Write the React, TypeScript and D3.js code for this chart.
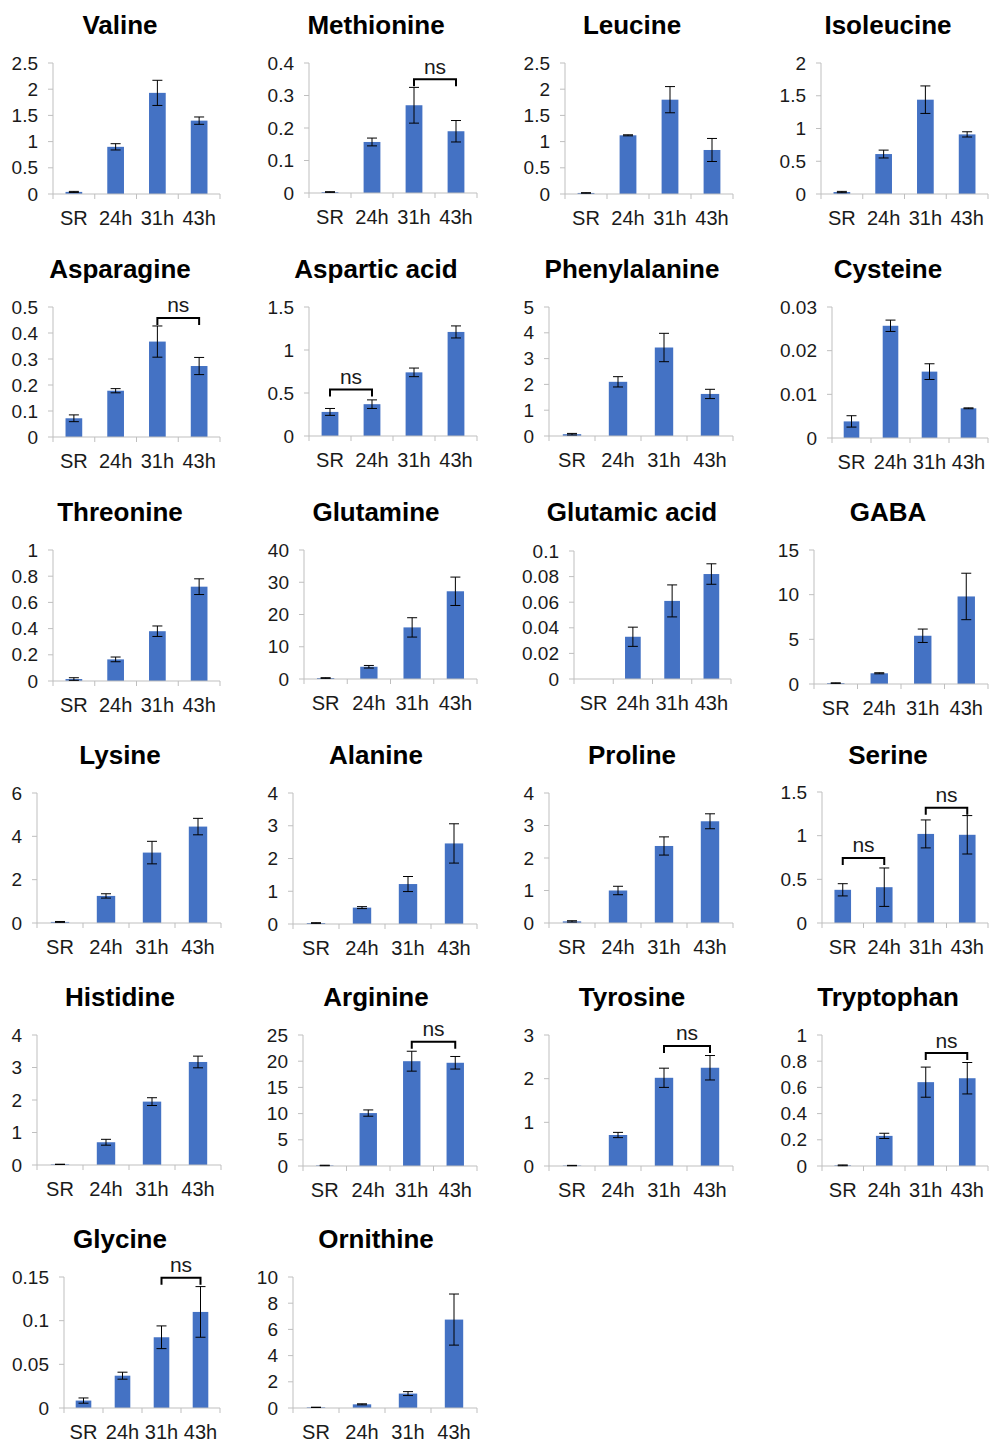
import React from 'react';
import * as d3 from 'd3';

// ---------- data ----------
const categories = ['SR', '24h', '31h', '43h'];

const panelNames = [
  'Valine', 'Methionine', 'Leucine', 'Isoleucine',
  'Asparagine', 'Aspartic acid', 'Phenylalanine', 'Cysteine',
  'Threonine', 'Glutamine', 'Glutamic acid', 'GABA',
  'Lysine', 'Alanine', 'Proline', 'Serine',
  'Histidine', 'Arginine', 'Tyrosine', 'Tryptophan',
  'Glycine', 'Ornithine',
];

const means = [
  [0.04, 0.90, 1.93, 1.40],
  [0.003, 0.157, 0.270, 0.190],
  [0.02, 1.12, 1.80, 0.84],
  [0.03, 0.61, 1.44, 0.91],
  [0.072, 0.178, 0.367, 0.273],
  [0.28, 0.37, 0.74, 1.21],
  [0.07, 2.10, 3.43, 1.63],
  [0.0038, 0.0257, 0.0152, 0.0068],
  [0.015, 0.165, 0.38, 0.72],
  [0.3, 3.8, 16.0, 27.2],
  [0, 0.033, 0.061, 0.082],
  [0.1, 1.2, 5.4, 9.8],
  [0.05, 1.25, 3.25, 4.45],
  [0.03, 0.50, 1.22, 2.46],
  [0.05, 1.00, 2.37, 3.13],
  [0.38, 0.41, 1.02, 1.01],
  [0.02, 0.70, 1.95, 3.17],
  [0.1, 10.1, 20.0, 19.7],
  [0.01, 0.71, 2.02, 2.25],
  [0.005, 0.23, 0.64, 0.67],
  [0.0085, 0.037, 0.081, 0.110],
  [0.05, 0.28, 1.10, 6.75],
];

const errors = [
  [0.01, 0.06, 0.24, 0.07],
  [0.001, 0.012, 0.055, 0.033],
  [0.005, 0.01, 0.25, 0.22],
  [0.01, 0.06, 0.21, 0.04],
  [0.013, 0.008, 0.06, 0.033],
  [0.04, 0.05, 0.05, 0.07],
  [0.03, 0.20, 0.55, 0.18],
  [0.0013, 0.0013, 0.0018, 0.0001],
  [0.01, 0.018, 0.04, 0.06],
  [0.1, 0.4, 3.0, 4.4],
  [0, 0.0075, 0.0125, 0.008],
  [0.03, 0.06, 0.75, 2.6],
  [0.02, 0.10, 0.52, 0.38],
  [0.01, 0.03, 0.23, 0.60],
  [0.02, 0.13, 0.28, 0.23],
  [0.07, 0.22, 0.16, 0.22],
  [0.005, 0.09, 0.12, 0.18],
  [0.05, 0.6, 1.9, 1.2],
  [0.005, 0.06, 0.22, 0.28],
  [0.003, 0.02, 0.115, 0.12],
  [0.003, 0.004, 0.013, 0.029],
  [0.01, 0.04, 0.15, 1.95],
];

const yMax = [2.5, 0.4, 2.5, 2, 0.5, 1.5, 5, 0.03, 1, 40, 0.1, 15, 6, 4, 4, 1.5, 4, 25, 3, 1, 0.15, 10];
const yStep = [0.5, 0.1, 0.5, 0.5, 0.1, 0.5, 1, 0.01, 0.2, 10, 0.02, 5, 2, 1, 1, 0.5, 1, 5, 1, 0.2, 0.05, 2];

// "ns" brackets: panel index, from category, to category, bracket level (data units)
const nsPanel = [1, 4, 5, 15, 15, 17, 18, 19, 20];
const nsFrom = [2, 2, 0, 0, 2, 2, 2, 2, 2];
const nsTo = [3, 3, 1, 1, 3, 3, 3, 3, 3];
const nsLevel = [0.35, 0.458, 0.54, 0.745, 1.32, 23.7, 2.75, 0.862, 0.149];

// ---------- layout (pixels) ----------
// [left, right, top, zero]
const panelBox = [
  [53, 220, 63, 194], [309, 477, 63, 193], [565, 733, 63, 194], [821, 988, 63, 194],
  [53, 220, 307, 437], [309, 477, 307, 436], [549, 733, 307, 436], [832, 988, 307, 438],
  [53, 220, 550, 681], [304, 477, 550, 679], [574, 731, 551, 679], [814, 988, 550, 684],
  [37, 221, 793, 923], [293, 477, 793, 924], [549, 733, 793, 923], [822, 988, 792, 923],
  [37, 221, 1035, 1165], [303, 477, 1035, 1166], [549, 733, 1035, 1166], [822, 988, 1035, 1166],
  [64, 220, 1277, 1408], [293, 477, 1277, 1408],
];
const rowTitleY = [25, 269, 512, 755, 997, 1239];
const colTitleX = [120, 376, 632, 888];

const FONT = '"Liberation Sans", Arial, sans-serif';
const BAR = '#4472C4';
const AXIS = '#BFBFBF';
const TEXT = '#1a1a1a';

function fmt(v: number) {
  return String(+v.toFixed(6));
}

function Panel({ i }: { i: number }) {
  const [L, R, T, Z] = panelBox[i];
  const x = d3.scaleBand<string>().domain(categories).range([L, R]).paddingInner(0).paddingOuter(0);
  const y = d3.scaleLinear().domain([0, yMax[i]]).range([Z, T]);
  const ticks = d3.range(0, yMax[i] + yStep[i] / 2, yStep[i]);
  const bw = x.bandwidth() * 0.4;
  const row = Math.floor(i / 4);
  const col = i % 4;
  const capW = 5;
  const brackets = nsPanel.map((p, k) => ({ p, k })).filter((d) => d.p === i);
  return (
    <g>
      <text x={colTitleX[col]} y={rowTitleY[row]} textAnchor="middle" dominantBaseline="central"
        fontFamily={FONT} fontWeight="bold" fontSize={26} fill="#000">{panelNames[i]}</text>
      {/* y axis */}
      <line x1={L} x2={L} y1={T} y2={Z} stroke={AXIS} strokeWidth={1} />
      {ticks.map((t) => (
        <g key={t}>
          <line x1={L - 5} x2={L} y1={y(t)} y2={y(t)} stroke={AXIS} strokeWidth={1} />
          <text x={L - 15} y={y(t)} textAnchor="end" dominantBaseline="central"
            fontFamily={FONT} fontSize={19} fill={TEXT}>{fmt(t)}</text>
        </g>
      ))}
      {/* bars */}
      {categories.map((c, j) => (
        <rect key={c} x={(x(c) as number) + (x.bandwidth() - bw) / 2} y={y(means[i][j])}
          width={bw} height={Z - y(means[i][j])} fill={BAR} />
      ))}
      {/* x axis */}
      <line x1={L} x2={R} y1={Z} y2={Z} stroke={AXIS} strokeWidth={1} />
      {d3.range(categories.length + 1).map((k) => {
        const xx = L + k * x.bandwidth();
        return <line key={k} x1={xx} x2={xx} y1={Z} y2={Z + 5} stroke={AXIS} strokeWidth={1} />;
      })}
      {categories.map((c) => (
        <text key={c} x={(x(c) as number) + x.bandwidth() / 2} y={Z + 24} textAnchor="middle"
          dominantBaseline="central" fontFamily={FONT} fontSize={20} fill={TEXT}>{c}</text>
      ))}
      {/* error bars */}
      {categories.map((c, j) => {
        const e = errors[i][j];
        if (!e) return null;
        const cx = (x(c) as number) + x.bandwidth() / 2;
        const y0 = y(means[i][j] - e);
        const y1 = y(means[i][j] + e);
        return (
          <g key={c} stroke="#000" strokeWidth={1}>
            <line x1={cx} x2={cx} y1={y0} y2={y1} />
            <line x1={cx - capW} x2={cx + capW} y1={y0} y2={y0} />
            <line x1={cx - capW} x2={cx + capW} y1={y1} y2={y1} />
          </g>
        );
      })}
      {/* ns brackets */}
      {brackets.map(({ k }) => {
        const xa = (x(categories[nsFrom[k]]) as number) + x.bandwidth() / 2;
        const xb = (x(categories[nsTo[k]]) as number) + x.bandwidth() / 2;
        const yy = y(nsLevel[k]);
        return (
          <g key={k}>
            <path d={`M${xa},${yy + 7}V${yy}H${xb}V${yy + 7}`} fill="none" stroke="#000" strokeWidth={2} />
            <text x={(xa + xb) / 2} y={yy - 13} textAnchor="middle" dominantBaseline="central"
              fontFamily={FONT} fontSize={21} fill={TEXT}>ns</text>
          </g>
        );
      })}
    </g>
  );
}

export default function App() {
  return (
    <svg width={990} height={1441} style={{ display: 'block', position: 'absolute', left: 0, top: 0, background: '#fff' }}>
      <rect width={990} height={1441} fill="#fff" />
      {panelNames.map((_, i) => <Panel key={i} i={i} />)}
    </svg>
  );
}
